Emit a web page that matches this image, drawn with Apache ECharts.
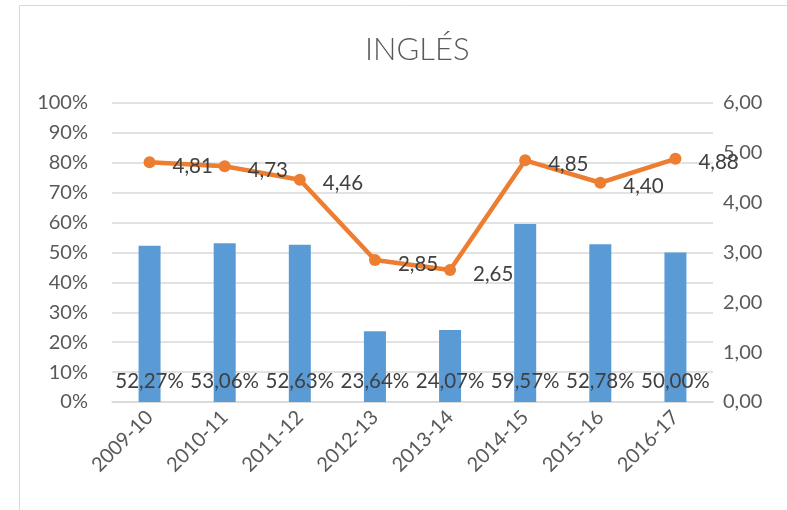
<!DOCTYPE html>
<html>
<head>
<meta charset="utf-8">
<script src="https://cdn.jsdelivr.net/npm/echarts@6/dist/echarts.min.js"></script>
<style>
  html, body { margin: 0; padding: 0; background: #fff; }
  #chart { width: 787px; height: 510px; }
</style>
</head>
<body>
<div id="chart"></div>
<script>
var cursos = ['2009-10', '2010-11', '2011-12', '2012-13', '2013-14', '2014-15', '2015-16', '2016-17'];
var aprobados = [52.27, 53.06, 52.63, 23.64, 24.07, 59.57, 52.78, 50.00];
var notaMedia = [4.81, 4.73, 4.46, 2.85, 2.65, 4.85, 4.40, 4.88];

var fuente = 'Lato, "Open Sans", sans-serif';
var gris = '#595959';

function coma(v, dec) {
  return v.toFixed(dec).replace('.', ',');
}

var myChart = echarts.init(document.getElementById('chart'));
var option = {
  animation: false,
  title: {
    text: 'INGLÉS',
    left: 360,
    top: 29,
    textStyle: { color: gris, fontFamily: fuente, fontWeight: 300, fontSize: 31 }
  },
  graphic: [{
    type: 'rect',
    shape: { x: 19.5, y: 5.5, width: 800, height: 520 },
    style: { fill: 'none', stroke: '#d9d9d9', lineWidth: 1 },
    silent: true
  }],
  grid: { left: 112, right: 74, top: 103, bottom: 108 },
  xAxis: {
    type: 'category',
    data: cursos,
    axisLine: { lineStyle: { color: '#d9d9d9', width: 1.5 } },
    axisTick: { show: false },
    axisLabel: { color: gris, fontFamily: fuente, fontSize: 20, rotate: 45, margin: 12, interval: 0 }
  },
  yAxis: [
    {
      type: 'value',
      min: 0, max: 100, interval: 10,
      axisLabel: {
        color: gris, fontFamily: fuente, fontSize: 20, margin: 24,
        formatter: function (v) { return v + '%'; }
      },
      splitLine: { lineStyle: { color: '#d9d9d9', width: 1.5 } }
    },
    {
      type: 'value',
      min: 0, max: 6, interval: 1,
      axisLabel: {
        color: gris, fontFamily: fuente, fontSize: 20, margin: 10,
        formatter: function (v) { return coma(v, 2); }
      },
      splitLine: { show: false }
    }
  ],
  series: [
    {
      name: 'Aprobados',
      type: 'bar',
      data: aprobados,
      barWidth: 22,
      itemStyle: { color: '#5B9BD5' },
      label: {
        show: true,
        position: 'insideBottom',
        distance: 10,
        color: '#404040',
        fontFamily: fuente,
        fontSize: 20.5,
        formatter: function (p) { return coma(p.value, 2) + '%'; }
      }
    },
    {
      name: 'Nota media',
      type: 'line',
      yAxisIndex: 1,
      data: notaMedia,
      symbol: 'circle',
      symbolSize: 12,
      lineStyle: { color: '#ED7D31', width: 4.5 },
      itemStyle: { color: '#ED7D31' },
      z: 3,
      label: {
        show: true,
        position: 'right',
        distance: 17,
        offset: [0, 4],
        color: '#404040',
        fontFamily: fuente,
        fontSize: 20.5,
        formatter: function (p) { return coma(p.value, 2); }
      }
    }
  ]
};
myChart.setOption(option);
</script>
</body>
</html>
